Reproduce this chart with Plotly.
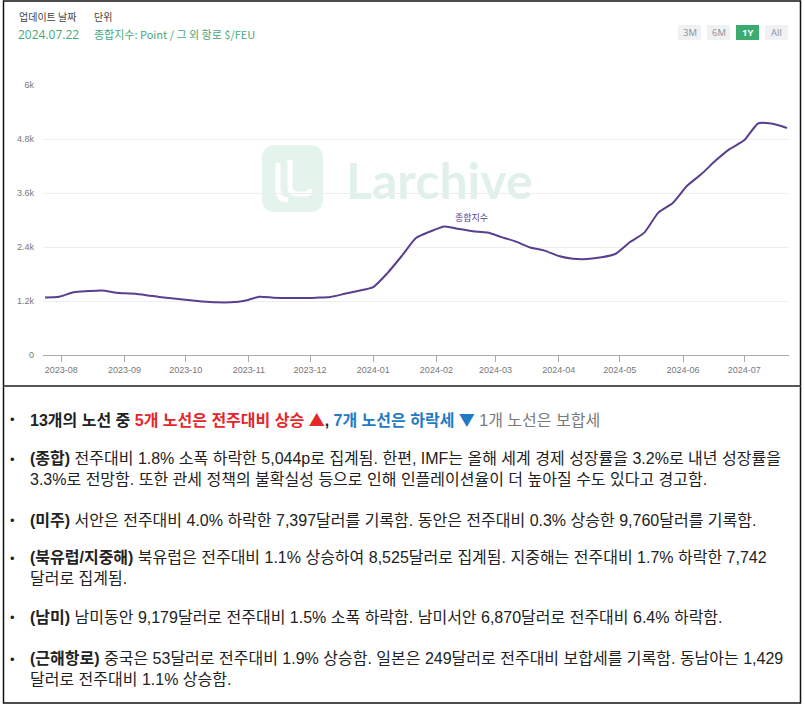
import plotly.graph_objects as go

# ---------------- data ----------------
dates = [
    "2023-07-24", "2023-07-31", "2023-08-07", "2023-08-14", "2023-08-21", "2023-08-28",
    "2023-09-04", "2023-09-11", "2023-09-18", "2023-09-25", "2023-10-02", "2023-10-09",
    "2023-10-16", "2023-10-23", "2023-10-30", "2023-11-06", "2023-11-13", "2023-11-20",
    "2023-11-27", "2023-12-04", "2023-12-11", "2023-12-18", "2023-12-25", "2024-01-01",
    "2024-01-08", "2024-01-15", "2024-01-22", "2024-01-29", "2024-02-05", "2024-02-12",
    "2024-02-19", "2024-02-26", "2024-03-04", "2024-03-11", "2024-03-18", "2024-03-25",
    "2024-04-01", "2024-04-08", "2024-04-15", "2024-04-22", "2024-04-29", "2024-05-06",
    "2024-05-13", "2024-05-20", "2024-05-27", "2024-06-03", "2024-06-10", "2024-06-17",
    "2024-06-24", "2024-07-01", "2024-07-08", "2024-07-15", "2024-07-22",
]
composite_index = [
    1280, 1295, 1395, 1420, 1435, 1385,
    1365, 1335, 1290, 1255, 1220, 1190,
    1170, 1170, 1205, 1295, 1275, 1265,
    1265, 1275, 1290, 1360, 1430, 1510,
    1820, 2200, 2600, 2745, 2855, 2800,
    2750, 2720, 2620, 2520, 2390, 2320,
    2200, 2140, 2133, 2170, 2250, 2510,
    2720, 3170, 3380, 3760, 4020, 4320,
    4580, 4770, 5150, 5137, 5044,
]
series_name = "종합지수"

y_tick_vals = [0, 1200, 2400, 3600, 4800, 6000]
y_tick_text = ["0", "1.2k", "2.4k", "3.6k", "4.8k", "6k"]
x_tick_vals = ["2023-08-01", "2023-09-01", "2023-10-01", "2023-11-01", "2023-12-01",
               "2024-01-01", "2024-02-01", "2024-03-01", "2024-04-01", "2024-05-01",
               "2024-06-01", "2024-07-01"]
x_tick_text = ["2023-08", "2023-09", "2023-10", "2023-11", "2023-12", "2024-01",
               "2024-02", "2024-03", "2024-04", "2024-05", "2024-06", "2024-07"]

update_label = "업데이트 날짜"
update_date = "2024.07.22"
unit_label = "단위"
unit_text = "종합지수: Point / 그 외 항로 $/FEU"
range_buttons = ["3M", "6M", "1Y", "All"]
active_button = "1Y"

bullet_paragraphs = [
    ["<b>13개의 노선 중 <span style='color:#e5262a'>5개 노선은 전주대비 상승 "
     "<span style='font-family:Noto Sans CJK KR'>▲</span></span>, "
     "<span style='color:#1f7bc4'>7개 노선은 하락세 "
     "<span style='font-family:Noto Sans CJK KR'>▼</span></span></b> "
     "<span style='color:#7a7a7a'>1개 노선은 보합세</span>"],
    ["<b>(종합)</b> 전주대비 1.8% 소폭 하락한 5,044p로 집계됨. 한편, IMF는 올해 세계 경제 성장률을 3.2%로 내년 성장률을",
     "3.3%로 전망함. 또한 관세 정책의 불확실성 등으로 인해 인플레이션율이 더 높아질 수도 있다고 경고함."],
    ["<b>(미주)</b> 서안은 전주대비 4.0% 하락한 7,397달러를 기록함. 동안은 전주대비 0.3% 상승한 9,760달러를 기록함."],
    ["<b>(북유럽/지중해)</b> 북유럽은 전주대비 1.1% 상승하여 8,525달러로 집계됨. 지중해는 전주대비 1.7% 하락한 7,742",
     "달러로 집계됨."],
    ["<b>(남미)</b> 남미동안 9,179달러로 전주대비 1.5% 소폭 하락함. 남미서안 6,870달러로 전주대비 6.4% 하락함."],
    ["<b>(근해항로)</b> 중국은 53달러로 전주대비 1.9% 상승함. 일본은 249달러로 전주대비 보합세를 기록함. 동남아는 1,429",
     "달러로 전주대비 1.1% 상승함."],
]
paragraph_top_y = [419, 459, 520, 558, 617, 659]

# ---------------- layout helpers ----------------
W, H = 805, 704
L, R, T, B = 43, 789, 85, 355


def px(x):
    return (x - L) / (R - L)


def py(y):
    return (B - y) / (B - T)


FONT = "Noto Sans CJK KR, Noto Sans, sans-serif"
BODY_FONT = "Liberation Sans, Noto Sans CJK KR, sans-serif"
LINE_COLOR = "#5a3f8e"
TEXT_SIZE = 16
LINE_GAP = TEXT_SIZE * 1.3

fig = go.Figure()
fig.add_trace(go.Scatter(
    x=dates, y=composite_index, mode="lines", name=series_name,
    line=dict(color=LINE_COLOR, width=2, shape="spline", smoothing=0.6),
    hoverinfo="x+y",
))

shapes = []
annotations = []

# watermark logo
x0, x1, y0, y1, r = 262, 323, 145, 212, 14
path = (f"M {px(x0 + r)} {py(y0)} L {px(x1 - r)} {py(y0)} "
        f"Q {px(x1)} {py(y0)} {px(x1)} {py(y0 + r)} L {px(x1)} {py(y1 - r)} "
        f"Q {px(x1)} {py(y1)} {px(x1 - r)} {py(y1)} L {px(x0 + r)} {py(y1)} "
        f"Q {px(x0)} {py(y1)} {px(x0)} {py(y1 - r)} L {px(x0)} {py(y0 + r)} "
        f"Q {px(x0)} {py(y0)} {px(x0 + r)} {py(y0)} Z")
shapes.append(dict(type="path", xref="paper", yref="paper", path=path,
                   fillcolor="#e4f3ec", line=dict(width=0), layer="below"))
logo_path = (f"M {px(278)} {py(163)} L {px(278)} {py(190)} Q {px(278)} {py(200)} {px(288)} {py(200)} "
             f"M {px(290)} {py(160)} L {px(290)} {py(186)} Q {px(290)} {py(194)} {px(298)} {py(194)} "
             f"L {px(306)} {py(194)} Q {px(310)} {py(194)} {px(310)} {py(189)}")
shapes.append(dict(type="path", xref="paper", yref="paper", path=logo_path,
                   line=dict(color="white", width=5), layer="below"))
annotations.append(dict(text="<b>Larchive</b>", x=px(345), y=py(180), xref="paper", yref="paper",
                        xanchor="left", yanchor="middle", showarrow=False, borderpad=0,
                        font=dict(family="Lato, Open Sans, sans-serif", size=50, color="#e1f1ea")))

# outer frame and divider
shapes.append(dict(type="rect", xref="paper", yref="paper",
                   x0=px(3.5), x1=px(800.5), y0=py(1), y1=py(703),
                   line=dict(color="#111111", width=1.5)))
shapes.append(dict(type="line", xref="paper", yref="paper",
                   x0=px(3.5), x1=px(800.5), y0=py(386), y1=py(386),
                   line=dict(color="#555555", width=2)))

# header
annotations.append(dict(text=update_label, x=px(17), y=py(16), xref="paper", yref="paper",
                        xanchor="left", yanchor="middle", showarrow=False,
                        font=dict(family=FONT, size=10, color="#444444")))
annotations.append(dict(text=unit_label, x=px(92), y=py(16), xref="paper", yref="paper",
                        xanchor="left", yanchor="middle", showarrow=False,
                        font=dict(family=FONT, size=10, color="#444444")))
annotations.append(dict(text=update_date, x=px(16), y=py(34), xref="paper", yref="paper",
                        xanchor="left", yanchor="middle", showarrow=False,
                        font=dict(family="Open Sans, sans-serif", size=12, color="#44a879")))
annotations.append(dict(text=unit_text, x=px(92), y=py(34), xref="paper", yref="paper",
                        xanchor="left", yanchor="middle", showarrow=False,
                        font=dict(family=FONT, size=11, color="#44a879")))

# range buttons
btn_x = [678, 707, 736, 765]
for label, bx in zip(range_buttons, btn_x):
    active = label == active_button
    shapes.append(dict(type="rect", xref="paper", yref="paper",
                       x0=px(bx), x1=px(bx + 23), y0=py(25), y1=py(40),
                       fillcolor="#3cab6f" if active else "#f0f1f2", line=dict(width=0)))
    annotations.append(dict(text=f"<b>{label}</b>" if active else label,
                            x=px(bx + 11.5), y=py(32.5), xref="paper", yref="paper",
                            xanchor="center", yanchor="middle", showarrow=False,
                            font=dict(family="Open Sans, sans-serif", size=9.5,
                                      color="white" if active else "#8a8f96")))

# series label
annotations.append(dict(text=series_name, x=px(471), y=py(217), xref="paper", yref="paper",
                        xanchor="center", yanchor="middle", showarrow=False,
                        font=dict(family=FONT, size=9, color="#5a3f8e")))

# bullets text (one annotation per paragraph, wrapped lines joined with <br>)
for lines, yy in zip(bullet_paragraphs, paragraph_top_y):
    annotations.append(dict(text="•", x=px(8), y=py(yy), xref="paper", yref="paper",
                            xanchor="left", yanchor="middle", showarrow=False,
                            font=dict(family=BODY_FONT, size=13, color="#222222")))
    n = len(lines)
    center = yy + (n - 1) * LINE_GAP / 2
    annotations.append(dict(text="<br>".join(lines), x=px(29), y=py(center),
                            xref="paper", yref="paper", align="left",
                            xanchor="left", yanchor="middle", showarrow=False, borderpad=0,
                            font=dict(family=BODY_FONT, size=TEXT_SIZE, color="#222222")))

fig.update_layout(
    width=W, height=H,
    margin=dict(l=L, r=W - R, t=T, b=H - B),
    paper_bgcolor="white", plot_bgcolor="white",
    showlegend=False,
    shapes=shapes, annotations=annotations,
    xaxis=dict(
        type="date", range=["2023-07-23", "2024-07-23"],
        tickvals=x_tick_vals, ticktext=x_tick_text,
        showgrid=False, showline=True, linecolor="#aaaaaa", linewidth=1,
        ticks="outside", ticklen=6, tickcolor="#aaaaaa",
        tickfont=dict(family="Liberation Sans, Arial, sans-serif", size=9, color="#777777"),
        zeroline=False,
    ),
    yaxis=dict(
        range=[0, 6000], tickvals=y_tick_vals, ticktext=y_tick_text,
        showgrid=True, gridcolor="#eeeeee", gridwidth=1,
        showline=False, zeroline=False, ticks="", ticklabelstandoff=8,
        tickfont=dict(family="Liberation Sans, Arial, sans-serif", size=9, color="#777777"),
    ),
)

fig.write_html(
    "out.html",
    config={"displayModeBar": False},
    post_script="document.body.style.margin='0';document.body.style.overflow='hidden';",
)
